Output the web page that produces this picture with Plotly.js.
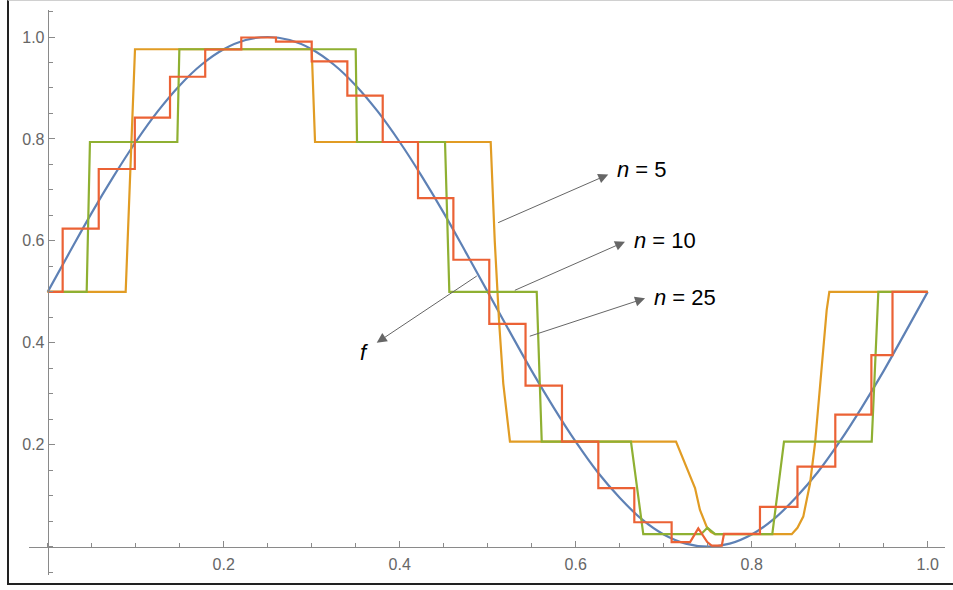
<!DOCTYPE html>
<html>
<head>
<meta charset="utf-8">
<script src="https://cdn.plot.ly/plotly-3.0.1.min.js"></script>
<style>
  html, body { margin: 0; padding: 0; background: #fff; }
  #wrap { position: relative; width: 953px; height: 590px; overflow: hidden; }
  #chart { position: absolute; left: 0; top: 0; width: 953px; height: 590px; }
  #frame { position: absolute; left: 7px; top: 0; width: 960px; height: 585px;
           border-left: 2px solid #222; border-bottom: 2px solid #222; border-top: 1px solid #d0d0d0;
           box-sizing: border-box; pointer-events: none; }
</style>
</head>
<body>
<div id="wrap"><div id="chart"></div><div id="frame"></div></div>
<script>
// ---- data ----
const fX = [0, 0.025, 0.05, 0.075, 0.1, 0.125, 0.15, 0.175, 0.2, 0.225, 0.25, 0.275, 0.3, 0.325, 0.35, 0.375, 0.4, 0.425, 0.45, 0.475, 0.5,
            0.525, 0.55, 0.575, 0.6, 0.625, 0.65, 0.675, 0.7, 0.725, 0.75, 0.775, 0.8, 0.825, 0.85, 0.875, 0.9, 0.925, 0.95, 0.975, 1];
const fY = [0.5, 0.578, 0.655, 0.727, 0.794, 0.854, 0.905, 0.946, 0.976, 0.994, 1.0, 0.994, 0.976, 0.946, 0.905, 0.854, 0.794, 0.727, 0.655, 0.578, 0.5,
            0.422, 0.345, 0.273, 0.206, 0.146, 0.096, 0.054, 0.024, 0.006, 0.0, 0.006, 0.024, 0.054, 0.096, 0.146, 0.206, 0.273, 0.345, 0.422, 0.5];

const n5X = [0, 0.0886, 0.0992, 0.300, 0.3038, 0.5034, 0.508, 0.513, 0.5177, 0.5253, 0.714, 0.720, 0.726, 0.7356, 0.7412, 0.7489, 0.7535, 0.7583,
             0.8455, 0.852, 0.8586, 0.8663, 0.872, 0.8776, 0.882, 0.8852, 0.8882, 1.0];
const n5Y = [0.5, 0.5, 0.976, 0.976, 0.794, 0.794, 0.60, 0.44, 0.32, 0.206, 0.206, 0.18, 0.157, 0.115, 0.072, 0.039, 0.029, 0.0245,
             0.0245, 0.037, 0.059, 0.124, 0.203, 0.307, 0.399, 0.464, 0.5, 0.5];

const n10X = [0, 0.0443, 0.048, 0.1473, 0.1496, 0.350, 0.3515, 0.4515, 0.4564, 0.5557, 0.5614, 0.6628, 0.6768,
              0.7425, 0.7496, 0.7585, 0.8234, 0.8367, 0.9364, 0.9439, 1.0];
const n10Y = [0.5, 0.5, 0.794, 0.794, 0.976, 0.976, 0.794, 0.794, 0.5, 0.5, 0.206, 0.206, 0.0245,
              0.0245, 0.037, 0.0245, 0.0245, 0.206, 0.206, 0.5, 0.5];

const n25X = [0, 0.017, 0.017, 0.058, 0.058, 0.099, 0.099, 0.139, 0.139, 0.179, 0.179, 0.220, 0.220, 0.2594, 0.2594,
              0.300, 0.300, 0.3405, 0.3405, 0.3807, 0.3807, 0.4208, 0.4208, 0.461, 0.461, 0.5018, 0.5018, 0.543, 0.543,
              0.5844, 0.5844, 0.6257, 0.6257, 0.6666, 0.6666, 0.709, 0.709, 0.730, 0.7393, 0.7495, 0.7545, 0.766, 0.7685,
              0.8094, 0.8094, 0.852, 0.852, 0.895, 0.895, 0.936, 0.936, 0.960, 0.960, 1.0];
const n25Y = [0.5, 0.5, 0.624, 0.624, 0.741, 0.741, 0.842, 0.842, 0.922, 0.922, 0.9755, 0.9755, 0.999, 0.999, 0.991,
              0.991, 0.952, 0.952, 0.885, 0.885, 0.794, 0.794, 0.684, 0.684, 0.563, 0.563, 0.437, 0.437, 0.316,
              0.316, 0.206, 0.206, 0.115, 0.115, 0.048, 0.048, 0.009, 0.009, 0.036, 0.009, 0.002, 0.002, 0.025,
              0.025, 0.078, 0.078, 0.157, 0.157, 0.259, 0.259, 0.376, 0.376, 0.5, 0.5];

const xTicks = [0.2, 0.4, 0.6, 0.8, 1.0];
const xTickText = ["0.2", "0.4", "0.6", "0.8", "1.0"];
const yTicks = [0.2, 0.4, 0.6, 0.8, 1.0];
const yTickText = ["0.2", "0.4", "0.6", "0.8", "1.0"];
const labels = ["<i>n</i> = 5", "<i>n</i> = 10", "<i>n</i> = 25", "<i>f</i>"];

// ---- chart ----
const LW = 2.2;
const traces = [
  {x: fX, y: fY, mode: 'lines', line: {color: '#5E81B5', width: LW, shape: 'spline', smoothing: 1}, hoverinfo: 'skip'},
  {x: n5X, y: n5Y, mode: 'lines', line: {color: '#E19C24', width: LW}, hoverinfo: 'skip'},
  {x: n10X, y: n10Y, mode: 'lines', line: {color: '#8FB032', width: LW}, hoverinfo: 'skip'},
  {x: n25X, y: n25Y, mode: 'lines', line: {color: '#EB6235', width: LW}, hoverinfo: 'skip'}
];

const xr = [-0.02125, 1.01966];
const yr = [-0.05552, 1.05297];

function arrow(hx, hy, tx, ty) {
  return {x: hx, y: hy, ax: tx, ay: ty, xref: 'x', yref: 'y', axref: 'x', ayref: 'y',
          text: '', showarrow: true, arrowhead: 2, arrowsize: 2, arrowwidth: 1,
          arrowcolor: '#666', standoff: 0, startstandoff: 0};
}
function label(x, y, t, anchor) {
  return {x: x, y: y, xref: 'x', yref: 'y', text: t, showarrow: false,
          xanchor: anchor, yanchor: 'middle',
          font: {family: 'Liberation Sans, Arial, sans-serif', size: 22, color: '#000'}};
}

const layout = {
  width: 953, height: 590,
  margin: {l: 29, r: 8, t: 10, b: 15},
  paper_bgcolor: '#fff', plot_bgcolor: '#fff',
  showlegend: false,
  xaxis: {
    range: xr, anchor: 'free', position: (0 - yr[0]) / (yr[1] - yr[0]),
    showgrid: false, zeroline: false, showline: true, linecolor: '#8a8a8a', linewidth: 1,
    tickmode: 'array', tickvals: xTicks, ticktext: xTickText,
    ticks: 'inside', ticklen: 6, tickcolor: '#8a8a8a', tickwidth: 1,
    minor: {dtick: 0.05, tick0: 0, ticks: 'inside', ticklen: 4, tickcolor: '#8a8a8a', tickwidth: 1, showgrid: false},
    tickfont: {family: 'Liberation Sans, Arial, sans-serif', size: 16, color: '#666'},
    ticklabelstandoff: 3
  },
  yaxis: {
    range: yr, anchor: 'free', position: (0 - xr[0]) / (xr[1] - xr[0]),
    showgrid: false, zeroline: false, showline: true, linecolor: '#8a8a8a', linewidth: 1,
    tickmode: 'array', tickvals: yTicks, ticktext: yTickText,
    ticks: 'inside', ticklen: 6, tickcolor: '#8a8a8a', tickwidth: 1,
    minor: {dtick: 0.05, tick0: 0, ticks: 'inside', ticklen: 4, tickcolor: '#8a8a8a', tickwidth: 1, showgrid: false},
    tickfont: {family: 'Liberation Sans, Arial, sans-serif', size: 16, color: '#666'}
  },
  annotations: [
    arrow(0.637, 0.7302, 0.5102, 0.6345),
    arrow(0.656, 0.5984, 0.5291, 0.5017),
    arrow(0.6788, 0.4873, 0.5461, 0.412),
    arrow(0.3739, 0.4002, 0.4893, 0.533),
    label(0.645, 0.741, labels[0], 'left'),
    label(0.664, 0.600, labels[1], 'left'),
    label(0.687, 0.488, labels[2], 'left'),
    label(0.3595, 0.382, labels[3], 'center')
  ]
};

Plotly.newPlot('chart', traces, layout, {displayModeBar: false, staticPlot: true});
</script>
</body>
</html>
